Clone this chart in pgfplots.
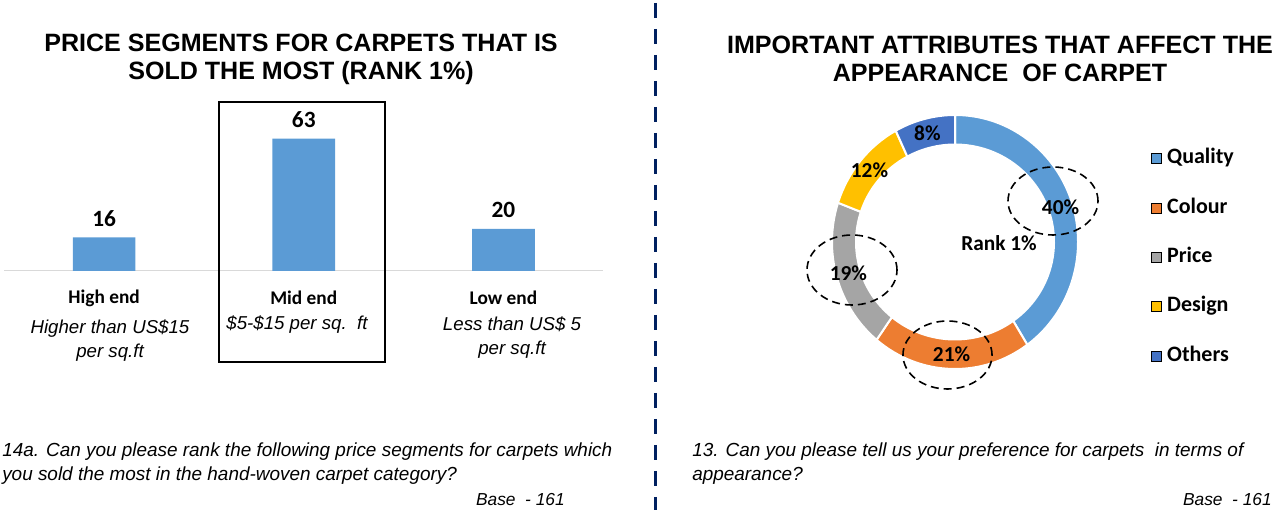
\documentclass[border=0pt]{standalone}
\usepackage{pgfplots}
\pgfplotsset{compat=1.18}
\usepackage{pgfplotstable}
\usepackage{fontspec}
\setmainfont{Liberation Sans}
\newfontfamily\carlito{Carlito}

\definecolor{qblue}{HTML}{5B9BD5}
\definecolor{corange}{HTML}{ED7D31}
\definecolor{pgray}{HTML}{A5A5A5}
\definecolor{dyellow}{HTML}{FFC000}
\definecolor{oblue}{HTML}{4472C4}
\definecolor{navy}{HTML}{002060}
\definecolor{basegray}{HTML}{D9D9D9}

% price segments, rank 1 %
\pgfplotstableread{
x value
0 16
1 63
2 20
}\pricedata

% attributes, rank 1 %
\pgfplotstableread{
label value
Quality 40
Colour 21
Price 19
Design 12
Others 8
}\donutdata

\newcommand\getval[2]{\pgfplotstablegetelem{#1}{value}\of\donutdata\edef#2{\pgfplotsretval}}
\getval{0}\vA\getval{1}\vB\getval{2}\vC\getval{3}\vD\getval{4}\vE
% clockwise from 12 o'clock
\pgfmathsetmacro\aA{90}
\pgfmathsetmacro\aB{\aA-3.6*\vA}
\pgfmathsetmacro\aC{\aB-3.6*\vB}
\pgfmathsetmacro\aD{\aC-3.6*\vC}
\pgfmathsetmacro\aE{\aD-3.6*\vD}
\pgfmathsetmacro\aF{\aE-3.6*\vE}

\newcommand\ringsector[3]{%
  \fill[#3,draw=white,line width=1.5pt]
    (axis cs:{123*cos(#1)},{127*sin(#1)})
    arc[start angle=#1,end angle=#2,x radius=92.25pt,y radius=95.25pt]
    -- (axis cs:{99*cos(#2)},{97.5*sin(#2)})
    arc[start angle=#2,end angle=#1,x radius=74.25pt,y radius=73.125pt]
    -- cycle;}
\newcommand\ringlabel[3]{%
  \node[font=\carlito\bfseries\fontsize{16}{18}\selectfont,inner sep=0pt]
    at (axis cs:{111*cos((#1+#2)/2)},{112*sin((#1+#2)/2)}) {#3\%};}

\begin{document}
\begin{tikzpicture}[x=0.75pt,y=0.75pt]
\useasboundingbox (0,0) rectangle (1275,510);

% ---- left panel ----
\node[font=\bfseries\fontsize{18.8}{21}\selectfont,align=center] at (301,451)
  {PRICE SEGMENTS FOR CARPETS THAT IS\\SOLD THE MOST (RANK 1\%)};

\begin{axis}[
  at={(227.8125pt,234.375pt)}, anchor=center,
  scale only axis, width=449.25pt, height=110.25pt,
  xmin=-0.5, xmax=2.5, ymin=0, ymax=70,
  axis line style={draw=none},
  xtick={0,1,2}, xticklabels={High end,Mid end,Low end},
  xtick style={draw=none}, ytick=\empty,
  xticklabel style={font=\carlito\bfseries\fontsize{14.5}{16}\selectfont,
    anchor=center,yshift=-16pt},
  ybar, bar width=47pt,
  nodes near coords,
  /pgf/number format/assume math mode=true,
  nodes near coords style={font=\carlito\bfseries\fontsize{17.5}{18}\selectfont,
    anchor=center,yshift=14pt,text=black},
  clip=false,
]
\draw[basegray,line width=0.75pt] (axis cs:-0.5,0) -- (axis cs:2.5,0);
\addplot[fill=qblue,draw=none] table[x=x,y=value]{\pricedata};
\end{axis}

\draw[black,line width=1.5pt] (219,408) rectangle (385,148);

\begin{scope}[every node/.style={font=\itshape\fontsize{14}{18.5}\selectfont,align=center,inner sep=0pt}]
\node at (110,169.5) {Higher than US\$15\\per sq.ft};
\node at (297,185.5) {\$5-\$15 per sq.~~ft};
\node at (512,172.5) {Less than US\$ 5\\per sq.ft};
\end{scope}

\node[anchor=west,align=left,inner sep=0pt,font=\itshape\fontsize{14.2}{18}\selectfont] at (2,46)
  {14a. Can you please rank the following price segments for carpets which\\you sold the most in the hand-woven carpet category?};
\node[anchor=east,inner sep=0pt,font=\itshape\fontsize{13}{15}\selectfont] at (565,10) {Base~~- 161};

% ---- divider ----
\draw[navy,line width=2.6pt,dash pattern=on 11.25pt off 8.25pt] (655.5,507) -- (655.5,0);

% ---- right panel ----
\node[font=\bfseries\fontsize{18.8}{21}\selectfont,align=center] at (1000,451)
  {IMPORTANT ATTRIBUTES THAT AFFECT THE\\APPEARANCE~~OF CARPET};

\begin{axis}[
  at={(716.25pt,201pt)}, anchor=center,
  scale only axis, width=195pt, height=195pt,
  xmin=-130, xmax=130, ymin=-130, ymax=130,
  hide axis, clip=false,
  legend image code/.code={\fill[#1] (0pt,-3.75pt) rectangle (7.5pt,3.75pt);},
  legend cell align=left,
  legend style={at={(1.236,0.873)},anchor=north west,draw=none,fill=none,
    font=\carlito\bfseries\fontsize{16.5}{18}\selectfont,
    nodes={text height=12pt,text depth=4pt,inner sep=0pt},
    row sep=21pt,
    /tikz/every odd column/.append style={column sep=4.5pt}},
]
\addlegendimage{fill=qblue}
\addlegendimage{fill=corange}
\addlegendimage{fill=pgray}
\addlegendimage{fill=dyellow}
\addlegendimage{fill=oblue}
\legend{Quality,Colour,Price,Design,Others}

\ringsector{\aA}{\aB}{qblue}
\ringsector{\aB}{\aC}{corange}
\ringsector{\aC}{\aD}{pgray}
\ringsector{\aD}{\aE}{dyellow}
\ringsector{\aE}{\aF}{oblue}

\ringlabel{\aA}{\aB}{\vA}
\ringlabel{\aB}{\aC}{\vB}
\ringlabel{\aC}{\aD}{\vC}
\ringlabel{\aD}{\aE}{\vD}
\ringlabel{\aE}{\aF}{\vE}

\node[font=\carlito\bfseries\fontsize{16}{18}\selectfont,inner sep=0pt] at (axis cs:44,-1) {Rank 1\%};

\begin{scope}[black,line width=1.2pt,dash pattern=on 6pt off 3.75pt]
\draw (axis cs:98,41) ellipse [x radius=33.75pt,y radius=25.5pt];
\draw (axis cs:-103,-28) ellipse [x radius=33.75pt,y radius=26.25pt];
\draw (axis cs:-7.5,-113) ellipse [x radius=33.4pt,y radius=25.5pt];
\end{scope}
\end{axis}

\node[anchor=west,align=left,inner sep=0pt,font=\itshape\fontsize{14.2}{18}\selectfont] at (692,46)
  {13. Can you please tell us your preference for carpets~~in terms of\\appearance?};
\node[anchor=east,inner sep=0pt,font=\itshape\fontsize{13}{15}\selectfont] at (1272,10) {Base~~- 161};
\end{tikzpicture}
\end{document}
